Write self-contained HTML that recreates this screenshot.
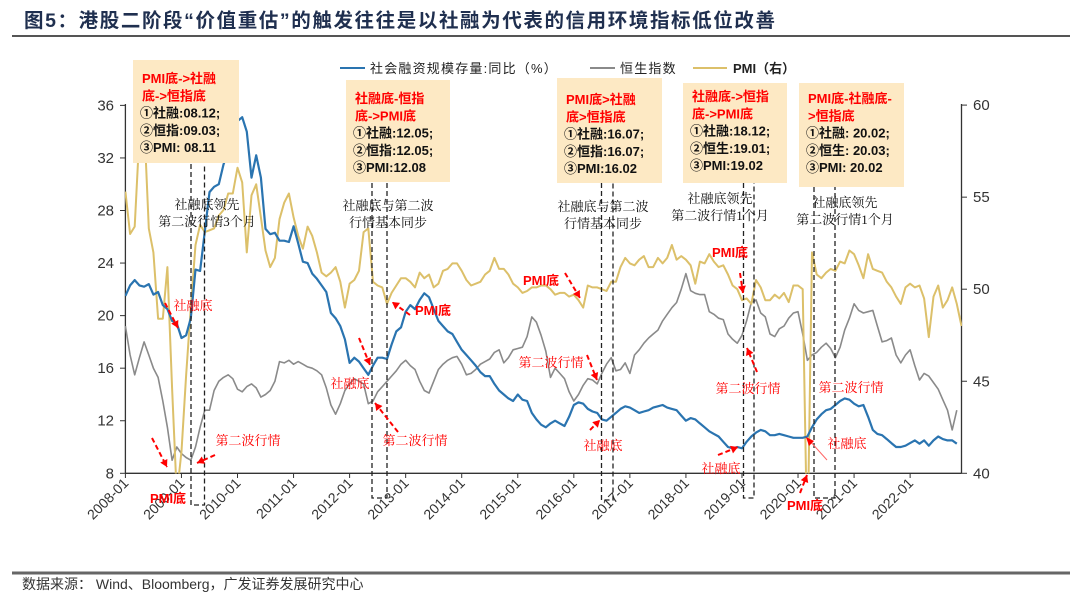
<!DOCTYPE html>
<html><head><meta charset="utf-8">
<style>
html,body{margin:0;padding:0;background:#fff;}
svg{display:block;font-family:"Liberation Sans","Noto Sans CJK SC",sans-serif;}
.serif{font-family:"Liberation Serif","Noto Serif CJK SC",serif;}
</style></head>
<body>
<svg id="chart" width="1080" height="601" viewBox="0 0 1080 601" xmlns="http://www.w3.org/2000/svg">
<defs><clipPath id="plotclip"><rect x="125" y="60" width="837" height="413.5"/></clipPath></defs>
<text x="24" y="27" font-size="19.5" font-weight="bold" letter-spacing="1.6" fill="#1f2f4f">图5：港股二阶段“价值重估”的触发往往是以社融为代表的信用环境指标低位改善</text>
<line x1="12" y1="36" x2="1070" y2="36" stroke="#555" stroke-width="2"/>
<line x1="12" y1="573" x2="1070" y2="573" stroke="#666" stroke-width="3"/>
<text x="22" y="589" font-size="14" fill="#333">数据来源：  Wind、Bloomberg，广发证券发展研究中心</text>
<g id="axes"></g>
<g id="series" clip-path="url(#plotclip)"></g>
<g id="annot"></g>
</svg>
<script>
const xTickLabels = ["2008-01","2009-01","2010-01","2011-01","2012-01","2013-01","2014-01","2015-01","2016-01","2017-01","2018-01","2019-01","2020-01","2021-01","2022-01"];
const leftTicks = [8,12,16,20,24,28,32,36];
const rightTicks = [40,45,50,55,60];
const tsfGrowth = [21.5,22.3,22.7,22.3,22.2,22.4,21.6,21.8,20.8,20.5,19.6,19.4,18.3,18.5,19.8,23.5,23.4,26.4,29.4,29.8,30,31.5,32.5,34.5,34.8,35.1,34,30.5,32.2,30.5,26.6,26.2,26.3,25.7,25.7,25.6,26.8,25.5,24.1,24,23.2,22.8,22.3,21.8,20.2,19.8,19.2,18.2,16.4,16.8,16.5,16,15.5,16.2,16.8,16.8,16.7,17.8,18.8,19.1,20.3,20.8,20.5,21.2,21.7,21.4,20.5,19.6,19.2,18.8,18.6,18,17.4,17,16.6,16.2,15.7,15.4,15.4,14.8,14.3,14,13.7,13.5,14,13.6,13.5,12.6,12.1,11.7,11.5,11.8,12,11.8,11.6,12.3,13.2,13.4,13.3,12.9,12.7,12.6,12.1,12,12.3,12.6,12.9,13.1,13,12.8,12.6,12.7,12.8,13,13.1,13.2,13,12.9,12.8,12.4,12,12.2,12.1,11.8,11.5,11.2,11,10.8,10.4,10,9.9,10,9.9,10.4,10.8,11.1,11.3,11.2,10.9,10.9,11,10.9,10.8,10.7,10.7,10.7,10.8,11.5,12.1,12.5,12.8,12.9,13.2,13.5,13.7,13.6,13.3,13.1,13.2,12.3,11.3,11,10.9,10.6,10.3,10,10,10.1,10.3,10.5,10.25,10.5,10.1,10.5,10.8,10.6,10.5,10.5,10.25];
const hsiScaled = [19.2,17,15.5,16.8,18,17,16,15.3,13.5,11.5,9,10,9.5,9.2,9,10,11.5,12.8,12.8,14.3,15,15.3,15.5,15.2,14.4,14.2,14.6,14.8,14.5,13.8,14,14.3,15,16.5,16.4,16.6,16.3,16.5,16.3,16.1,16,15.8,15.5,14.5,13.2,12.5,13.3,14.3,14.8,15.2,15,14.8,13.3,13.5,14.2,14.6,15,15.4,15.8,16.3,16.6,16.2,15.9,15,14.3,14.1,15,15.9,16.3,16.6,16.8,16.9,16.3,15.5,15.6,15.9,16.3,16.5,16.7,17.2,17.4,16.4,16.8,17.4,17.5,17.6,18.4,19.9,19.5,18.5,17.3,15.3,16,15.6,15.2,14.2,13.5,14,14.7,15.2,15.1,14.8,15.6,16.3,16.8,15.8,15.9,16.4,15.6,17,17.4,17.9,18.3,18.6,18.9,19.6,20.1,20.6,21,22,23.2,21.9,21.7,21.6,21.6,20.3,20.1,19.8,19.7,18.6,18.2,17.9,18.5,19.6,21,21.2,20.2,19.9,18.6,18.4,19,19.2,19.8,20.2,20.3,18.6,16.6,17,17.2,17.6,17.9,17.5,16.8,17.6,18.9,19.8,20.9,20.4,20.2,20.3,20.4,19.2,18,18.1,18.3,17,16.4,17,17.4,16.2,15.1,15.6,15.4,14.9,14.4,13.6,12.8,11.3,12.8];
const pmi = [55.3,53,53.4,58.4,59.2,53.3,52,48.4,48.4,51.2,44.6,38.8,41.2,45.3,49,52.4,53.5,53.1,53.2,53.3,54,54.3,55.2,55.2,56.6,55.8,52,55.1,55.7,53.9,52.1,51.2,51.7,53.8,54.7,55.2,53.9,52.9,52.2,53.4,52.9,52,50.9,50.7,50.9,51.2,50.4,49,50.3,50.5,51,53.1,53.3,50.4,50.2,50.1,49.2,49.8,50.2,50.6,50.6,50.4,50.1,50.9,50.6,50.8,50.1,50.3,51,51.1,51.4,51.4,51,50.5,50.2,50.3,50.4,50.8,51,51.7,51.1,51.1,50.8,50.3,50.1,49.8,49.9,50.1,50.1,50.2,50.2,50,49.7,49.8,49.8,49.6,49.7,49.4,49,50.2,50.1,50.1,50,49.9,50.4,50.4,51.2,51.7,51.4,51.3,51.6,51.8,51.2,51.2,51.7,51.4,51.7,52.4,51.6,51.8,51.6,51.3,50.3,51.5,51.4,51.9,51.5,51.2,51.3,50.8,50.2,50,49.4,49.5,49.2,50.5,50.1,49.4,49.4,49.7,49.5,49.8,49.3,50.2,50.2,50,35.7,52,50.8,50.6,50.9,51.1,51,51.5,51.4,52.1,51.9,51.3,50.6,51.9,51.1,51,50.9,50.4,50.1,49.6,49.2,50.1,50.3,50.1,50.2,49.5,47.4,49.6,50.2,49,49.4,50.1,49.2,48.0];

const NS="http://www.w3.org/2000/svg";
const X0=125.4, MONTH=4.671;
const xM = i => X0 + i*MONTH;
const yL = v => 473.3 - (v-8)*13.14;
const yR = v => 473.3 - (v-40)*18.41;
function mk(tag, attrs, parent, text){
  const e=document.createElementNS(NS,tag);
  for(const k in attrs) e.setAttribute(k,attrs[k]);
  if(text!==undefined) e.textContent=text;
  parent.appendChild(e); return e;
}
const axes=document.getElementById('axes');
const series=document.getElementById('series');
const annot=document.getElementById('annot');

let l=mk('line',{x1:125.4,y1:104,x2:125.4,y2:473.3,stroke:'#333','stroke-width':1.3},axes);


l=mk('line',{x1:961.5,y1:104,x2:961.5,y2:473.3,stroke:'#333','stroke-width':1.3},axes);


l=mk('line',{x1:125.4,y1:473.3,x2:961.5,y2:473.3,stroke:'#333','stroke-width':1.3},axes);



leftTicks.forEach(v=>{
  const t=mk('line',{x1:120,x2:125.4,y1:yL(v),y2:yL(v),stroke:'#333'},axes);
  
  
  const tx=mk('text',{x:114,y:yL(v)+5,'text-anchor':'end','font-size':15,fill:'#333'},axes,String(v));
  
  
});
rightTicks.forEach(v=>{
  const t=mk('line',{x1:961.5,x2:967,y1:yR(v),y2:yR(v),stroke:'#333'},axes);
  
  
  const tx=mk('text',{x:973,y:yR(v)+5,'font-size':15,fill:'#333'},axes,String(v));
  
  
});
xTickLabels.forEach((s,k)=>{
  const x=xM(k*12);
  const t=mk('line',{x1:x,x2:x,y1:473.3,y2:478,stroke:'#333'},axes);
  
  
  const tx=mk('text',{x:x+4,y:484,'text-anchor':'end','font-size':14,fill:'#333',transform:`rotate(-45 ${x+4} 484)`},axes,s);
  
  
});

function line(arr, yf, color, w, name){
  const d=arr.map((v,i)=>(i?'L':'M')+xM(i).toFixed(1)+','+yf(v).toFixed(1)).join('');
  const p=mk('path',{d:d,fill:'none',stroke:color,'stroke-width':w,'stroke-linejoin':'round'},series);
  
  
}
line(hsiScaled, yL, '#8a8a8a', 1.6, 'hsi-line');
line(pmi, yR, '#dcc06a', 2, 'pmi-line');
line(tsfGrowth, yL, '#2a74b0', 2.2, 'tsf-growth-line');

const lg=[[340,365,'#2a74b0','社会融资规模存量:同比（%）',370,'legend-tsf'],[590,615,'#8a8a8a','恒生指数',620,'legend-hsi'],[693,727,'#dcc06a','PMI（右）',733,'legend-pmi']];
lg.forEach(a=>{
  const g=mk('g',{},annot);
  
  
  mk('line',{x1:a[0],x2:a[1],y1:68,y2:68,stroke:a[2],'stroke-width':2},g);
  mk('text',{x:a[4],y:73,'font-size':13,fill:'#222','letter-spacing':a[5]=='legend-pmi'?0:1.2,'font-weight':a[5]=='legend-pmi'?'bold':'normal'},g,a[3]);
});

const pairs=[[191,204.5,164,505],[372,387,183,498],[601.5,613,183,500],[743.5,754,183,498],[814,835,187,498]];
pairs.forEach(p=>{
  const d=`M${p[0]},${p[2]}V${p[3]}H${p[1]}V${p[2]}`;
  const e=mk('path',{d:d,fill:'none',stroke:'#222','stroke-width':1.3,'stroke-dasharray':'5,3'},annot);
  
  
});

const boxes=[
 [133,60,106,103,['PMI底->社融','底->恒指底'],['①社融:08.12;','②恒指:09.03;','③PMI: 08.11'],78],
 [346,80,104,102,['社融底-恒指','底->PMI底'],['①社融:12.05;','②恒指:12.05;','③PMI:12.08'],98],
 [557,78,105,105,['PMI底>社融','底>恒指底'],['①社融:16.07;','②恒指:16.07;','③PMI:16.02'],99],
 [683,83,104,100,['社融底->恒指','底->PMI底'],['①社融:18.12;','②恒生:19.01;','③PMI:19.02'],96],
 [799,83,105,104,['PMI底-社融底-','>恒指底'],['①社融: 20.02;','②恒生: 20.03;','③PMI: 20.02'],98]
];
boxes.forEach(b=>{
  const g=mk('g',{},annot);
  
  
  mk('rect',{x:b[0],y:b[1],width:b[2],height:b[3],fill:'#fde9c4'},g);
  let y=b[6];
  b[4].forEach(s=>{mk('text',{x:b[0]+9,y:y+5,'font-size':13,'font-weight':'bold',fill:'#f00'},g,s);y+=17.3;});
  b[5].forEach(s=>{mk('text',{x:b[0]+7,y:y+5,'font-size':13,'font-weight':'bold',fill:'#111'},g,s);y+=17.3;});
});

const notes=[[207,['社融底领先','第二波行情3个月'],204],[388,['社融底与第二波','行情基本同步'],205],[603,['社融底与第二波','行情基本同步'],206],[720,['社融底领先','第二波行情1个月'],198],[845,['社融底领先','第二波行情1个月'],202]];
notes.forEach(n=>{
  n[1].forEach((s,k)=>{
    const t=mk('text',{x:n[0],y:n[2]+k*17+5,'text-anchor':'middle','font-size':13,fill:'#111',class:'serif'},annot,s);
    
    
  });
});

const reds=[[193,305,'社融底'],[168,498,'PMI底'],[248,440,'第二波行情'],[350,383,'社融底'],[415,440,'第二波行情'],[433,310,'PMI底'],[541,280,'PMI底'],[551,362,'第二波行情'],[603,445,'社融底'],[730,252,'PMI底'],[748,388,'第二波行情'],[721,468,'社融底'],[805,505,'PMI底'],[847,443,'社融底'],[851,387,'第二波行情']];
reds.forEach(r=>{
  const t=mk('text',{x:r[0],y:r[1]+5,'text-anchor':'middle','font-size':13,fill:'#f00','font-weight':r[2].startsWith('PMI')?'bold':'normal',class:r[2].startsWith('PMI')?'':'serif'},annot,r[2]);
  
  
});
const arrows=[[165,303,178,328],[152,438,167,467],[215,455,197,463],[359,338,370,365],[398,432,375,403],[410,315,392,302],[565,273,580,298],[587,355,597,380],[590,430,600,420],[740,273,743,293],[757,372,747,348],[718,455,738,447],[800,493,807,475]];
arrows.forEach(a=>{
  const g=mk('g',{},annot);
  
  
  mk('line',{x1:a[0],y1:a[1],x2:a[2],y2:a[3],stroke:'#f00','stroke-width':2,'stroke-dasharray':'5,3'},g);
  const ang=Math.atan2(a[3]-a[1],a[2]-a[0]);
  const s=7, w=4;
  const bx=a[2]-s*Math.cos(ang), by=a[3]-s*Math.sin(ang);
  mk('path',{d:`M${a[2]},${a[3]}L${bx-w*Math.sin(ang)},${by+w*Math.cos(ang)}L${bx+w*Math.sin(ang)},${by-w*Math.cos(ang)}Z`,fill:'#f00'},g);
});
const g2=mk('g',{},annot);


mk('line',{x1:827,y1:460,x2:809,y2:440,stroke:'#f66','stroke-width':1},g2);
mk('path',{d:'M806,437L814,441L809,446Z',fill:'#f00'},g2);
</script>
</body></html>
